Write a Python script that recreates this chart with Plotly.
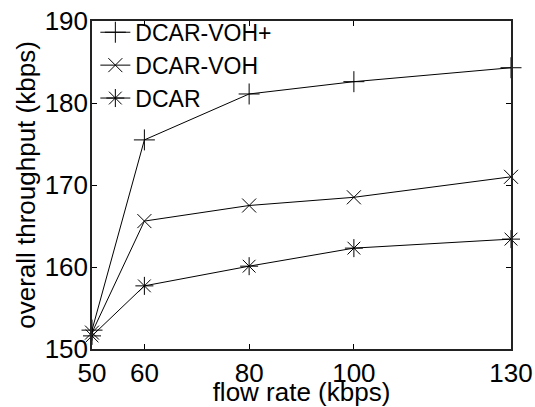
import plotly.graph_objects as go

flow_rate = [50, 60, 80, 100, 130]
voh_plus = [152.3, 175.5, 181.1, 182.6, 184.3]
voh = [152.0, 165.6, 167.5, 168.5, 171.0]
dcar = [151.6, 157.7, 160.1, 162.3, 163.4]
x_ticks = [50, 60, 80, 100, 130]
y_ticks = [150, 160, 170, 180, 190]

series = [
    ("DCAR-VOH+", voh_plus, "cross-thin-open", 15),
    ("DCAR-VOH", voh, "x-thin-open", 14),
    ("DCAR", dcar, "asterisk-open", 15),
]

fig = go.Figure()
for name, vals, sym, sz in series:
    fig.add_trace(go.Scatter(
        x=flow_rate, y=vals, name=name, mode="lines+markers",
        line=dict(color="black", width=1),
        marker=dict(symbol=sym, size=sz, color="black",
                    line=dict(color="black", width=1)),
        cliponaxis=False,
    ))

font = dict(family="Liberation Sans, Arial, sans-serif", color="black")

fig.update_layout(
    width=535, height=407,
    margin=dict(l=92, r=24, t=20, b=58),
    paper_bgcolor="white", plot_bgcolor="white",
    font=dict(**font, size=26),
    showlegend=True,
    legend=dict(x=0.008, y=1.028, xanchor="left", yanchor="top",
                bgcolor="rgba(0,0,0,0)", borderwidth=0,
                font=dict(**font, size=23), tracegroupgap=0),
    xaxis=dict(
        range=[50, 130], tickvals=x_ticks, ticktext=[str(v) for v in x_ticks],
        ticks="inside", ticklen=5, tickcolor="black", mirror="ticks",
        showline=True, linecolor="#222", linewidth=1.5, showgrid=False,
        zeroline=False, tickfont=dict(**font, size=26),
        automargin=False,
        title=dict(text="flow rate (kbps)", font=dict(**font, size=26), standoff=4),
    ),
    yaxis=dict(
        range=[150, 190], tickvals=y_ticks, ticktext=[str(v) for v in y_ticks],
        ticks="inside", ticklen=5, tickcolor="black", mirror="ticks",
        showline=True, linecolor="#222", linewidth=1.5, showgrid=False,
        zeroline=False, tickfont=dict(**font, size=26), ticklabelstandoff=-3,
        automargin=False,
        title=dict(text="overall throughput (kbps)", font=dict(**font, size=26), standoff=2),
    ),
)

fig.write_html("out.html")
